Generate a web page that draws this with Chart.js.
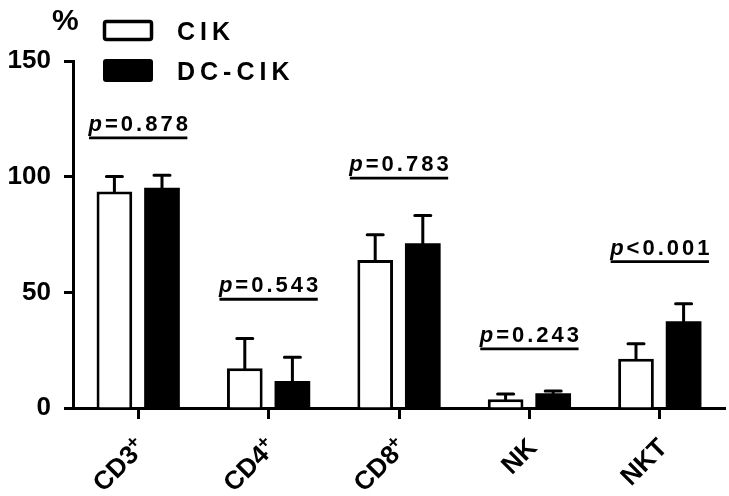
<!DOCTYPE html>
<html>
<head>
<meta charset="utf-8">
<script src="https://cdn.jsdelivr.net/npm/chart.js@4.4.0/dist/chart.umd.min.js"></script>
<style>
  body { margin: 0; background: #fff; }
</style>
</head>
<body>
<canvas id="chart-bar" width="729" height="496"></canvas>
<script>
// values (%)
var cellTypes = ["CD3+", "CD4+", "CD8+", "NK", "NKT"];
var cikMean = [93.6, 17.2, 64.0, 3.8, 21.3];
var cikSd = [6.5, 12.8, 10.9, 2.3, 6.5];
var dcCikMean = [95.2, 11.7, 71.2, 6.4, 37.5];
var dcCikSd = [5.4, 10.2, 12.0, 1.0, 7.6];
var pLabels = ["p=0.878", "p=0.543", "p=0.783", "p=0.243", "p<0.001"];
var pLineAt = [116.8, 47.0, 99.4, 25.6, 63.3];
var yTicks = [0, 50, 100, 150];

var FONT = "'Liberation Sans', Arial, sans-serif";

// upper error bars only
var errorBars = {
  id: 'errorBars',
  afterDatasetsDraw: function (chart) {
    var ctx = chart.ctx;
    var y = chart.scales.y;
    var sds = [cikSd, dcCikSd];
    chart.data.datasets.forEach(function (ds, i) {
      var meta = chart.getDatasetMeta(i);
      meta.data.forEach(function (bar, j) {
        var top = y.getPixelForValue(ds.data[j] + sds[i][j]);
        ctx.save();
        ctx.strokeStyle = '#000';
        ctx.lineWidth = 3;
        ctx.lineCap = 'round';
        ctx.beginPath();
        ctx.moveTo(bar.x, bar.y);
        ctx.lineTo(bar.x, top);
        ctx.moveTo(bar.x - 8, top);
        ctx.lineTo(bar.x + 8, top);
        ctx.stroke();
        ctx.restore();
      });
    });
  }
};

// p values, category labels, legend and unit
var extras = {
  id: 'extras',
  afterDraw: function (chart) {
    var ctx = chart.ctx;
    var x = chart.scales.x;
    var y = chart.scales.y;
    var catW = x.getPixelForTick(1) - x.getPixelForTick(0);

    // p value brackets
    pLabels.forEach(function (lab, i) {
      var cx = x.getPixelForTick(i);
      var ly = y.getPixelForValue(pLineAt[i]);
      var half = catW * 0.377;
      ctx.save();
      ctx.strokeStyle = '#000';
      ctx.lineWidth = 2.8;
      ctx.beginPath();
      ctx.moveTo(cx - half, ly);
      ctx.lineTo(cx + half, ly);
      ctx.stroke();

      ctx.fillStyle = '#000';
      ctx.letterSpacing = '3px';
      ctx.textBaseline = 'alphabetic';
      ctx.textAlign = 'left';
      ctx.font = 'italic bold 22px ' + FONT;
      var wp = ctx.measureText(lab[0]).width;
      ctx.font = 'bold 22px ' + FONT;
      var wr = ctx.measureText(lab.slice(1)).width;
      var sx = cx - (wp + wr - 3) / 2;
      ctx.font = 'italic bold 22px ' + FONT;
      ctx.fillText(lab[0], sx, ly - 7);
      ctx.font = 'bold 22px ' + FONT;
      ctx.fillText(lab.slice(1), sx + wp, ly - 7);
      ctx.restore();
    });

    // rotated category labels, trailing "+" as superscript
    chart.data.labels.forEach(function (lab, i) {
      var tx = x.getPixelForTick(i) + 9;
      ctx.save();
      ctx.translate(tx, 449);
      ctx.rotate(-Math.PI / 4);
      ctx.fillStyle = '#000';
      ctx.textAlign = 'right';
      ctx.textBaseline = 'alphabetic';
      var main = lab, sup = '';
      if (lab.slice(-1) === '+') { main = lab.slice(0, -1); sup = '+'; }
      var off = 0;
      if (sup) {
        ctx.font = 'bold 19px ' + FONT;
        ctx.fillText(sup, 0, -9);
        off = ctx.measureText(sup).width - 1;
      }
      ctx.font = 'bold 26px ' + FONT;
      ctx.fillText(main, -off, 0);
      ctx.restore();
    });

    // legend
    ctx.save();
    var ds = chart.data.datasets;
    ctx.lineWidth = 3.5;
    ctx.strokeStyle = '#000';
    ctx.fillStyle = ds[0].backgroundColor;
    ctx.beginPath();
    ctx.roundRect(104.5, 21.5, 47, 18, 2);
    ctx.fill();
    ctx.stroke();
    ctx.fillStyle = ds[1].backgroundColor;
    ctx.beginPath();
    ctx.roundRect(103, 59, 50, 23, 3);
    ctx.fill();
    ctx.fillStyle = '#000';
    ctx.font = 'bold 25px ' + FONT;
    ctx.letterSpacing = '5px';
    ctx.textAlign = 'left';
    ctx.fillText(ds[0].label, 177, 39.5);
    ctx.fillText(ds[1].label, 177, 80);

    // unit
    ctx.letterSpacing = '0px';
    ctx.font = 'bold 30px ' + FONT;
    ctx.fillText('%', 52, 30);
    ctx.restore();
  }
};

var ctx = document.getElementById("chart-bar").getContext("2d");
new Chart(ctx, {
  type: "bar",
  data: {
    labels: cellTypes,
    datasets: [
      {
        label: "CIK",
        data: cikMean,
        backgroundColor: "#ffffff",
        borderColor: "#000000",
        borderWidth: 3,
        borderSkipped: 'bottom',
        categoryPercentage: 0.73,
        barPercentage: 0.75,
      },
      {
        label: "DC-CIK",
        data: dcCikMean,
        backgroundColor: "#000000",
        borderWidth: 0,
        categoryPercentage: 0.73,
        barPercentage: 0.75,
      },
    ],
  },
  options: {
    responsive: false,
    animation: false,
    layout: {
      padding: { top: 61, right: 4, left: 0, bottom: 0 },
    },
    plugins: {
      legend: { display: false },
      tooltip: { enabled: false },
    },
    scales: {
      x: {
        grid: {
          display: true,
          offset: false,
          drawOnChartArea: false,
          drawTicks: true,
          tickLength: 11,
          tickWidth: 3,
          tickColor: '#000',
        },
        border: { display: true, color: '#000', width: 3 },
        ticks: { display: false },
        afterFit: function (s) { s.height = 88; },
      },
      y: {
        min: 0,
        max: 150,
        afterBuildTicks: function (s) {
          s.ticks = yTicks.map(function (v) { return { value: v }; });
        },
        grid: {
          drawOnChartArea: false,
          drawTicks: true,
          tickLength: 9,
          tickWidth: 3,
          tickColor: '#000',
        },
        border: { display: true, color: '#000', width: 3 },
        ticks: {
          color: '#000',
          padding: 13,
          font: { family: FONT, size: 26, weight: 'bold' },
        },
        afterFit: function (s) { s.width = 73; },
      },
    },
  },
  plugins: [errorBars, extras],
});
</script>
</body>
</html>
